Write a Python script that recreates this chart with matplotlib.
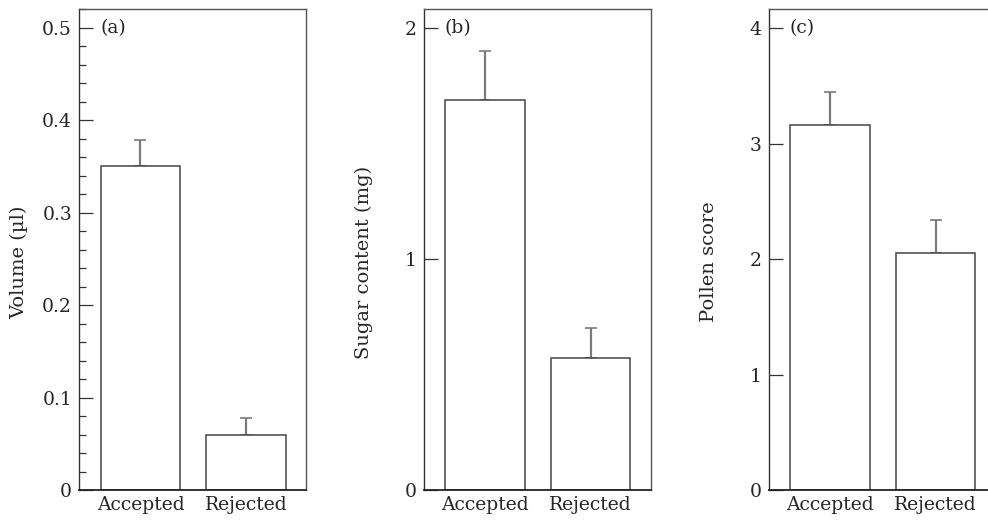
import matplotlib
matplotlib.use("Agg")
import matplotlib.pyplot as plt
from matplotlib.ticker import MultipleLocator, FixedLocator

categories = ["Accepted", "Rejected"]

vol_means = [0.35, 0.06]
vol_err = [0.029, 0.018]

sugar_means = [1.69, 0.57]
sugar_err = [0.21, 0.13]

pollen_means = [3.16, 2.05]
pollen_err = [0.29, 0.29]

panels = [
    dict(means=vol_means, err=vol_err, ylabel="Volume (µl)", tag="(a)",
         yticks=[0, 0.1, 0.2, 0.3, 0.4, 0.5], ylabels=["0", "0.1", "0.2", "0.3", "0.4", "0.5"],
         ytop=0.52, minor=0.02),
    dict(means=sugar_means, err=sugar_err, ylabel="Sugar content (mg)", tag="(b)",
         yticks=[0, 1, 2], ylabels=["0", "1", "2"], ytop=2.082, minor=None),
    dict(means=pollen_means, err=pollen_err, ylabel="Pollen score", tag="(c)",
         yticks=[0, 1, 2, 3, 4], ylabels=["0", "1", "2", "3", "4"], ytop=4.165, minor=None),
]

plt.rcParams['font.family'] = ['DejaVu Serif']
W, H = 988, 532
fig = plt.figure(figsize=(W / 100, H / 100), dpi=100)

lefts = [79, 423.7, 768.7]
ax_w = 227
ax_bottom = 490
ax_top = 9.3
text_col = "#262626"

for left, p in zip(lefts, panels):
    ax = fig.add_axes([left / W, 1 - ax_bottom / H, ax_w / W, (ax_bottom - ax_top) / H])
    x = list(range(len(categories)))
    ax.bar(x, p["means"], width=0.754, color="white", edgecolor="#444444", linewidth=1.1, zorder=2)
    ax.errorbar(x, p["means"], yerr=[[0] * len(x), p["err"]], fmt="none",
                ecolor="#7a7a7a", elinewidth=1.6, capsize=4.5, capthick=1.2, zorder=1)
    ax.set_xlim(-0.583, 1.569)
    ax.set_ylim(0, p["ytop"])
    ax.yaxis.set_major_locator(FixedLocator(p["yticks"]))
    ax.set_yticklabels(p["ylabels"])
    if p["minor"]:
        ax.yaxis.set_minor_locator(MultipleLocator(p["minor"]))
    ax.tick_params(axis="y", which="major", direction="in", length=10, width=0.9,
                   color="#333333", pad=5, labelsize=13.5, labelcolor=text_col)
    ax.tick_params(axis="y", which="minor", direction="in", length=5, width=0.9, color="#333333")
    ax.set_xticks(x)
    ax.set_xticklabels(categories)
    ax.tick_params(axis="x", length=0, pad=4, labelsize=13.5, labelcolor=text_col)
    for side, sp in ax.spines.items():
        sp.set_linewidth(1.0)
        sp.set_color("#555555")
    ax.spines["bottom"].set_color("#222222")
    ax.spines["bottom"].set_linewidth(1.3)
    ax.spines["left"].set_color("#333333")
    ax.set_ylabel(p["ylabel"], fontsize=14, color=text_col)
    ax.yaxis.set_label_coords(-0.222, 0.474)
    ax.text(0.093, p["yticks"][-1], p["tag"], transform=ax.get_yaxis_transform(),
            ha="left", va="center", fontsize=13.5, color=text_col)

fig.savefig("out.png", dpi=100)
